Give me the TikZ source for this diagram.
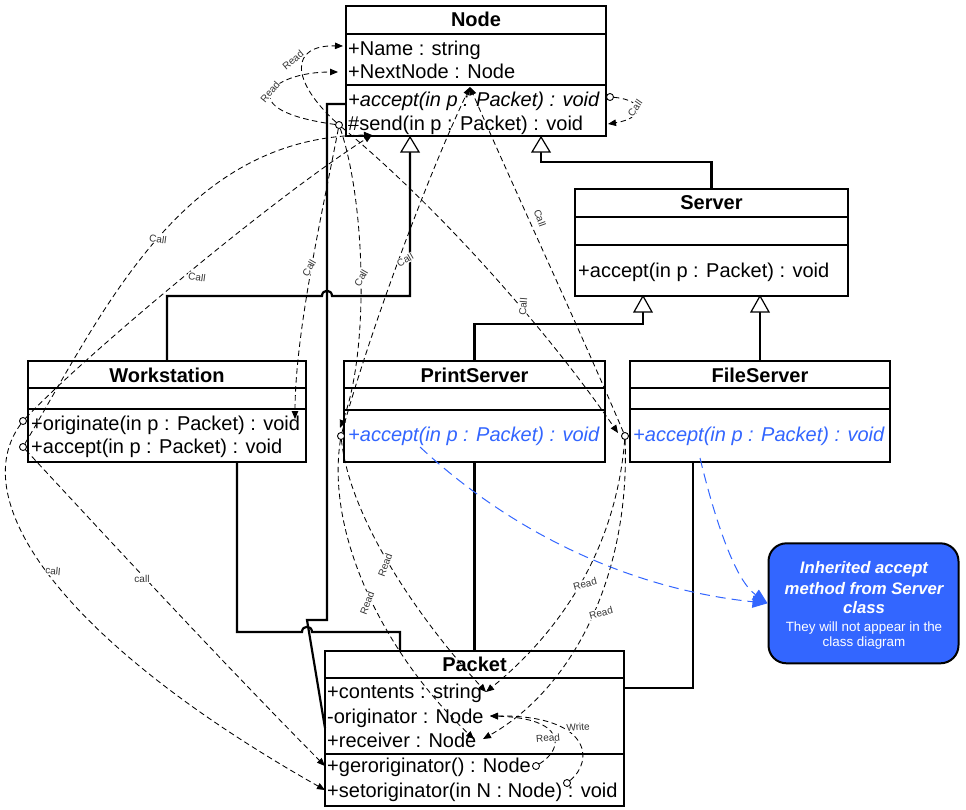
\documentclass[tikz,border=0pt]{standalone}
\usepackage{fontspec}
\setmainfont{Liberation Sans}
\usetikzlibrary{arrows.meta}
\definecolor{umlblue}{RGB}{51,102,255}
\definecolor{notefill}{RGB}{51,102,255}
\begin{document}
\begin{tikzpicture}[x=1pt,y=-1pt,
  clsbox/.style={draw=black,line width=1.2pt,fill=white,inner sep=0pt,outer sep=0pt},
  sepline/.style={draw=black,line width=1.2pt},
  ttl/.style={anchor=base,font=\fontsize{20}{24}\selectfont\bfseries,inner sep=0pt},
  mem/.style={anchor=base west,font=\fontsize{20}{24}\selectfont,inner sep=0pt},
  inh/.style={line width=2.2pt},
  tri/.style={draw=black,fill=white,line width=1.2pt},
  depline/.style={dash pattern=on 5.5pt off 3.5pt,line width=0.85pt,-{Triangle[length=8pt,width=6.5pt]}},
  orig/.style={circle,draw,fill=white,inner sep=0pt,minimum size=7pt,line width=0.9pt},
  lbl/.style={fill=white,inner sep=0.6pt,font=\fontsize{10}{11}\selectfont,text=black!80},
  bluedep/.style={draw=umlblue,dash pattern=on 10pt off 6pt,line width=1pt,-{Triangle[length=15pt,width=12pt]},umlblue},
  notetxt/.style={anchor=base,text=white,inner sep=0pt}
]
\useasboundingbox (0,0) rectangle (966,809);
\fill[white] (0,0) rectangle (966,809);

% ---------- class boxes ----------
\node[clsbox,minimum width=260pt,minimum height=130pt] (NodeBox) at (476,71) {};
\draw[sepline] (346,34) -- (606,34);
\draw[sepline] (346,85) -- (606,85);
\node[ttl] (nodeTitle) at (476,26) {Node};
\node[mem] (nName) at (348,55) {+Name : string};
\node[mem] (nNext) at (348,78) {+NextNode : Node};
\node[mem] (nAcc) at (348,106) {\itshape +accept(in p : Packet) : void};
\node[mem] (nSend) at (348,130) {\#send(in p : Packet) : void};

\node[clsbox,minimum width=273pt,minimum height=107pt] (ServerBox) at (711.5,242.5) {};
\draw[sepline] (575,217) -- (848,217);
\draw[sepline] (575,245) -- (848,245);
\node[ttl] (srvTitle) at (711.5,209) {Server};
\node[mem] (sAcc) at (578,277) {+accept(in p : Packet) : void};

\node[clsbox,minimum width=278pt,minimum height=101pt] (WSBox) at (167,411.5) {};
\draw[sepline] (28,388) -- (306,388);
\draw[sepline] (28,409) -- (306,409);
\node[ttl] (wsTitle) at (167,382) {Workstation};
\node[mem] (wsOrig) at (31,430) {+originate(in p : Packet) : void};
\node[mem] (wsAcc) at (31,453) {+accept(in p : Packet) : void};

\node[clsbox,minimum width=261pt,minimum height=101pt] (PSBox) at (474.5,411.5) {};
\draw[sepline] (344,388) -- (605,388);
\draw[sepline] (344,410) -- (605,410);
\node[ttl] (psTitle) at (474.5,382) {PrintServer};
\node[mem,text=umlblue] (psAcc) at (348,441) {\itshape +accept(in p : Packet) : void};

\node[clsbox,minimum width=260pt,minimum height=101pt] (FSBox) at (760,411.5) {};
\draw[sepline] (630,388) -- (890,388);
\draw[sepline] (630,409) -- (890,409);
\node[ttl] (fsTitle) at (760,382) {FileServer};
\node[mem,text=umlblue] (fsAcc) at (633,441) {\itshape +accept(in p : Packet) : void};

\node[clsbox,minimum width=299pt,minimum height=155pt] (PacketBox) at (474.5,728.5) {};
\draw[sepline] (325,678) -- (624,678);
\draw[sepline] (325,754) -- (624,754);
\node[ttl] (pkTitle) at (474.5,671) {Packet};
\node[mem] (pkCont) at (327,698) {+contents : string};
\node[mem] (pkOrig) at (327,723) {-originator : Node};
\node[mem] (pkRecv) at (327,747) {+receiver : Node};
\node[mem] (pkGer) at (327,772) {+geroriginator() : Node};
\node[mem] (pkSet) at (327,797) {+setoriginator(in N : Node) : void};

% ---------- note ----------
\node[draw=black,line width=2pt,fill=notefill,rounded corners=18pt,minimum width=190pt,minimum height=120pt] (note) at (863.5,603.3) {};
\node[notetxt,font=\fontsize{16.7}{20}\selectfont\bfseries\itshape] (nt1) at (864,573) {Inherited accept};
\node[notetxt,font=\fontsize{16.7}{20}\selectfont\bfseries\itshape] (nt2) at (864,594) {method from Server};
\node[notetxt,font=\fontsize{16.7}{20}\selectfont\bfseries\itshape] (nt3) at (864,613) {class};
\node[notetxt,font=\fontsize{13.4}{16}\selectfont] (nt4) at (864,631) {They will not appear in the};
\node[notetxt,font=\fontsize{13.4}{16}\selectfont] (nt5) at (864,646) {class diagram};

% ---------- inheritance ----------
\draw[inh] (ServerBox.north) |- (541,162) -- (541,152);
\draw[tri] (541,137) -- ++(-9,15) -- ++(18,0) -- cycle;
\draw[inh] (WSBox.north) -- (167,296) -- (322,296) .. controls (322,289) and (332,289) .. (332,296) -- (410,296) -- (410,152);
\draw[tri] (410,137) -- ++(-9,15) -- ++(18,0) -- cycle;
\draw[inh] (PSBox.north) -- (474.5,324) -- (643,324) -- (643,312);
\draw[tri] (643,296) -- ++(-9,16) -- ++(18,0) -- cycle;
\draw[inh] (FSBox.north) -- (760,312);
\draw[tri] (760,296) -- ++(-9,16) -- ++(18,0) -- cycle;

% ---------- associations ----------
\coordinate (nodeL) at (346,104);
\coordinate (pkL) at (325,728);
\draw[inh] (nodeL) -- (327,104) -- (327,620) -- (307,620) -- (pkL);
\draw[inh] (237,462) -- (237,632) -- (302,632) .. controls (302,625) and (312,625) .. (312,632) -- (400,632) -- (400,651);
\draw[inh] (474.5,462) -- (474.5,651);
\draw[inh] (693,462) -- (693,688) -- (624,688);

% ---------- origins and targets ----------
\node[orig] (nacC) at (610,97) {};
\node[orig] (sendC) at (339,125) {};
\node[orig] (wsoC) at (23,421) {};
\node[orig] (wsaC) at (23,447) {};
\node[orig] (psC) at (341,436) {};
\node[orig] (fsC) at (625,436) {};
\node[orig] (gerC) at (536,766) {};
\node[orig] (setC) at (567,783) {};

\coordinate (sendSelfT) at (608,124);
\coordinate (nameT) at (343,46);
\coordinate (nextT) at (338,72);
\coordinate (sendT) at (372,135);
\coordinate (accT) at (470,87);
\coordinate (wsoT) at (295,419);
\coordinate (psT) at (340,428);
\coordinate (fsT) at (618,433);
\coordinate (contT) at (486,692);
\coordinate (origT) at (490,716);
\coordinate (recT1) at (474,739);
\coordinate (recT2) at (483,739);
\coordinate (gerT) at (325,766);
\coordinate (setT) at (325,790);
\coordinate (psTxt) at (420,447);
\coordinate (fsTxt) at (700,458);

% ---------- dependencies ----------
\draw[depline] (nacC) .. controls (645,100) and (645,118) .. (sendSelfT);
\draw[depline] (sendC) .. controls (230,110) and (270,72) .. (nextT);
\draw[depline] (sendC) .. controls (290,80) and (290,45) .. (nameT);
\draw[depline] (wsoC) .. controls (80,360) and (270,200) .. (sendT);
\draw[depline] (wsaC) .. controls (106,306) and (184,137) .. (sendT);
\draw[depline] (sendC) .. controls (325,200) and (295,330) .. (wsoT);
\draw[depline] (sendC) .. controls (365,200) and (370,350) .. (psT);
\draw[depline] (sendC) .. controls (430,200) and (540,320) .. (fsT);
\draw[depline] (psC) .. controls (370,330) and (430,170) .. (accT);
\draw[depline] (fsC) .. controls (580,330) and (510,180) .. (accT);
\draw[depline] (psC) .. controls (350,520) and (420,620) .. (contT);
\draw[depline] (psC) .. controls (325,540) and (390,660) .. (recT1);
\draw[depline] (fsC) .. controls (615,560) and (550,640) .. (contT);
\draw[depline] (fsC) .. controls (630,580) and (570,690) .. (recT2);
\draw[depline] (wsoC) .. controls (-35,500) and (60,640) .. (setT);
\draw[depline] (wsaC) .. controls (100,530) and (220,660) .. (gerT);
\draw[depline] (gerC) .. controls (565,748) and (565,718) .. (origT);
\draw[depline] (setC) .. controls (595,760) and (590,715) .. (origT);

\draw[bluedep] (psTxt) .. controls (520,540) and (640,590) .. (note.west);
\draw[bluedep] (fsTxt) .. controls (715,520) and (735,580) .. (note.west);

% ---------- labels ----------
\node[lbl,rotate=55] (L1) at (635,108) {Call};
\node[lbl,rotate=40] (L2) at (293,60) {Read};
\node[lbl,rotate=50] (L3) at (270,92) {Read};
\node[lbl,rotate=-8] (L4) at (158,239) {Call};
\node[lbl,rotate=-8] (L5) at (197,277) {Call};
\node[lbl,rotate=60] (L6) at (309,268) {Call};
\node[lbl,rotate=60] (L7) at (361,278) {Call};
\node[lbl,rotate=30] (L8) at (405,260) {Call};
\node[lbl,rotate=-70] (L9) at (540,218) {Call};
\node[lbl,rotate=85] (L10) at (523,307) {Call};
\node[lbl,rotate=70] (L11) at (385,565) {Read};
\node[lbl,rotate=70] (L12) at (367,603) {Read};
\node[lbl,rotate=15] (L13) at (585,584) {Read};
\node[lbl,rotate=15] (L14) at (601,613) {Read};
\node[lbl,rotate=-5] (L15) at (53,571) {call};
\node[lbl] (L16) at (142,579) {call};
\node[lbl,rotate=5] (L17) at (548,738) {Read};
\node[lbl,rotate=5] (L18) at (578,727) {Write};
\end{tikzpicture}
\end{document}
